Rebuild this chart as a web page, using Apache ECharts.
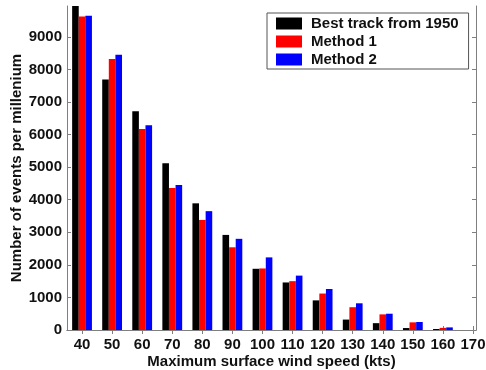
<!DOCTYPE html>
<html>
<head>
<meta charset="utf-8">
<script src="https://cdn.jsdelivr.net/npm/echarts@6/dist/echarts.min.js"></script>
<style>
  html, body { margin: 0; padding: 0; background: #fff; }
  #chart { width: 486px; height: 370px; }
</style>
</head>
<body>
<div id="chart"></div>
<script>
// wind speed classes (kts)
const speeds = [40, 50, 60, 70, 80, 90, 100, 110, 120, 130, 140, 150, 160, 170];
// events per millenium
const bestTrack = [10200, 7690, 6720, 5120, 3890, 2920, 1880, 1460, 910, 320, 210, 60, 30, 0];
const method1 = [9630, 8320, 6170, 4360, 3380, 2540, 1890, 1500, 1120, 700, 480, 235, 65, 0];
const method2 = [9650, 8450, 6290, 4450, 3650, 2800, 2230, 1670, 1260, 820, 500, 245, 80, 0];
const yTicks = [0, 1000, 2000, 3000, 4000, 5000, 6000, 7000, 8000, 9000];

const font = "'Liberation Sans', Arial, sans-serif";
const frameColor = "#7f7f7f";

function pairs(vals) {
  return speeds.map((s, i) => [s, vals[i]]);
}

const chart = echarts.init(document.getElementById("chart"));

const tickStyle = { inside: true, length: 4, lineStyle: { color: frameColor } };
const boldText = { fontFamily: font, fontWeight: "bold", fontSize: 15, color: "#111" };

chart.setOption({
  animation: false,
  grid: { left: 67, right: 10, top: 6, bottom: 40, containLabel: false, outerBoundsMode: "none" },
  legend: {
    orient: "vertical",
    left: 267,
    top: 13,
    padding: [3, 10, 2, 9],
    itemWidth: 26,
    itemHeight: 12,
    itemGap: 3,
    icon: "rect",
    borderColor: "#555",
    borderWidth: 1,
    backgroundColor: "#fff",
    textStyle: Object.assign({ padding: [0, 0, 0, 4] }, boldText),
    data: ["Best track from 1950", "Method 1", "Method 2"],
  },
  xAxis: [
    {
      type: "value",
      min: 35,
      max: 171,
      name: "Maximum surface wind speed (kts)",
      nameLocation: "middle",
      nameGap: 24,
      nameMoveOverlap: false,
      nameTextStyle: boldText,
      axisLine: { lineStyle: { color: frameColor } },
      axisTick: Object.assign({ customValues: speeds }, tickStyle),
      axisLabel: Object.assign({ customValues: speeds, margin: 7 }, boldText),
      splitLine: { show: false },
    },
    {
      type: "value",
      position: "top",
      min: 35,
      max: 171,
      axisLine: { show: true, lineStyle: { color: frameColor } },
      axisTick: Object.assign({ customValues: speeds }, tickStyle),
      axisLabel: { show: false },
      splitLine: { show: false },
    },
  ],
  yAxis: [
    {
      type: "value",
      min: 0,
      max: 9950,
      interval: 1000,
      name: "Number of events per millenium",
      nameLocation: "middle",
      nameGap: 43,
      nameMoveOverlap: false,
      nameTextStyle: boldText,
      axisLine: { show: true, lineStyle: { color: frameColor } },
      axisTick: Object.assign({ customValues: yTicks }, tickStyle),
      axisLabel: Object.assign({ customValues: yTicks, margin: 5, formatter: (v) => String(v) }, boldText),
      splitLine: { show: false },
    },
    {
      type: "value",
      position: "right",
      min: 0,
      max: 9950,
      interval: 1000,
      axisLine: { show: true, lineStyle: { color: frameColor } },
      axisTick: Object.assign({ customValues: yTicks }, tickStyle),
      axisLabel: { show: false },
      splitLine: { show: false },
    },
  ],
  series: [
    { name: "Best track from 1950", type: "bar", data: pairs(bestTrack), barWidth: 6.6, barGap: "0%", itemStyle: { color: "#000000" } },
    { name: "Method 1", type: "bar", data: pairs(method1), barWidth: 6.6, barGap: "0%", itemStyle: { color: "#ff0000" } },
    { name: "Method 2", type: "bar", data: pairs(method2), barWidth: 6.6, barGap: "0%", itemStyle: { color: "#0000ff" } },
  ],
});

window.addEventListener("resize", function () {
  chart.resize();
});
</script>
</body>
</html>
